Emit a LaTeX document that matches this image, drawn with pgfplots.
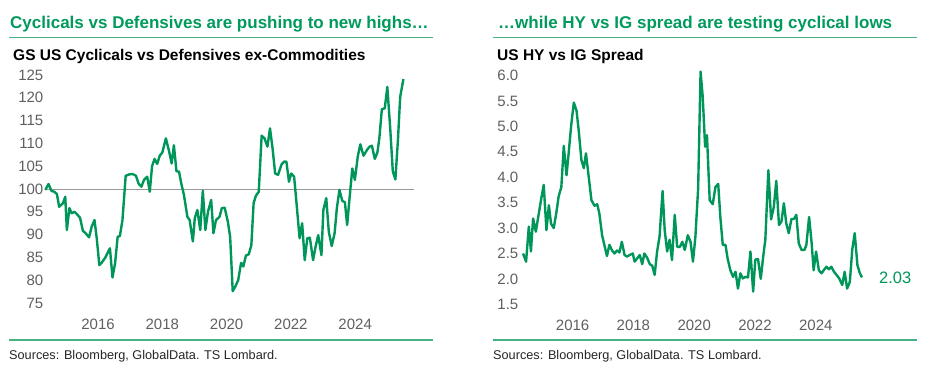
\documentclass[border=0pt]{standalone}
\usepackage{fontspec}
\setmainfont{Liberation Sans}
\usepackage{pgfplots}
\pgfplotsset{compat=1.18}
\definecolor{titlegreen}{RGB}{0,154,92}
\definecolor{linegreen}{RGB}{0,150,90}
\definecolor{rulegreen}{RGB}{70,180,130}
\definecolor{tickgray}{RGB}{95,95,95}
\pgfplotsset{
  base/.style={
    scale only axis, anchor=south west, clip=false,
    axis line style={draw=none}, tick style={draw=none},
    ticklabel style={font=\fontsize{15}{18}\selectfont, text=tickgray, inner sep=0pt},
    xticklabel style={anchor=north, yshift=-16pt},
    yticklabel style={anchor=east, xshift=-1.5pt},
    xtick={2016,2018,2020,2022,2024},
    xticklabels={2016,2018,2020,2022,2024},
  }
}
\begin{document}
\begin{tikzpicture}[x=1pt,y=1pt]
\path[use as bounding box] (0,0) rectangle (945,365);
% titles and rules
\node[anchor=base west, inner sep=0, text=titlegreen, font=\fontsize{17}{20}\selectfont\bfseries] at (10,336.7) {Cyclicals vs Defensives are pushing to new highs…};
\node[anchor=base west, inner sep=0, text=titlegreen, font=\fontsize{17}{20}\selectfont\bfseries] at (498,336.7) {…while HY vs IG spread are testing cyclical lows};
\draw[rulegreen, line width=1.2pt] (9,327.7) -- (433,327.7);
\draw[rulegreen, line width=1.2pt] (493,327.7) -- (917,327.7);
\node[anchor=base west, inner sep=0, font=\fontsize{15.5}{18}\selectfont\bfseries] at (13,305) {GS US Cyclicals vs Defensives ex-Commodities};
\node[anchor=base west, inner sep=0, font=\fontsize{15.5}{18}\selectfont\bfseries] at (497,305) {US HY vs IG Spread};
\draw[rulegreen, line width=1.2pt] (9,25) -- (433,25);
\draw[rulegreen, line width=1.2pt] (493,25) -- (917,25);
\node[anchor=base west, inner sep=0, font=\fontsize{12.7}{15}\selectfont, text=black!85] at (9,6) {Sources: Bloomberg, GlobalData. TS Lombard.};
\node[anchor=base west, inner sep=0, font=\fontsize{12.7}{15}\selectfont, text=black!85] at (493,6) {Sources: Bloomberg, GlobalData. TS Lombard.};

\begin{axis}[base, at={(45pt,62pt)}, width=369pt, height=228pt,
  xmin=2014.35, xmax=2025.83, ymin=75, ymax=125,
  ytick={75,80,85,90,95,100,105,110,115,120,125},
  yticklabels={75,80,85,90,95,100,105,110,115,120,125}]
\addplot[gray!80, line width=0.9pt, forget plot] coordinates {(2014.35,100) (2025.83,100)};
\addplot[linegreen, line width=2.4pt, line join=round] table {
2014.36 99.8
2014.46 101.1
2014.55 99.6
2014.64 99.4
2014.72 98.9
2014.79 96.1
2014.91 96.9
2014.98 98.3
2015.03 91.0
2015.11 95.8
2015.18 94.7
2015.27 95.0
2015.34 94.5
2015.44 93.7
2015.53 90.8
2015.60 90.4
2015.72 89.4
2015.80 91.7
2015.89 93.2
2015.96 89.2
2016.04 83.3
2016.11 83.8
2016.22 84.9
2016.37 87.0
2016.45 80.6
2016.53 83.7
2016.61 89.5
2016.68 89.7
2016.76 93.2
2016.86 102.9
2016.97 103.2
2017.07 103.3
2017.18 102.9
2017.26 101.2
2017.35 100.5
2017.43 102.0
2017.53 102.7
2017.61 99.4
2017.68 105.0
2017.76 106.6
2017.84 105.5
2017.92 107.3
2018.00 108.0
2018.11 111.1
2018.21 108.3
2018.29 105.6
2018.36 109.6
2018.44 103.9
2018.52 103.8
2018.59 101.2
2018.67 98.8
2018.78 93.9
2018.85 93.2
2018.95 88.5
2019.01 93.6
2019.09 95.4
2019.18 91.0
2019.26 99.6
2019.34 91.0
2019.42 95.0
2019.52 97.6
2019.59 90.3
2019.67 93.2
2019.78 93.9
2019.85 95.8
2019.94 95.9
2020.04 92.8
2020.11 89.5
2020.19 77.6
2020.27 78.6
2020.36 80.0
2020.45 83.8
2020.52 83.0
2020.60 85.4
2020.69 85.7
2020.77 87.7
2020.84 96.9
2020.91 98.5
2021.00 99.4
2021.09 111.7
2021.18 111.1
2021.27 109.3
2021.35 113.3
2021.43 108.9
2021.51 103.4
2021.60 103.1
2021.71 105.4
2021.79 106.0
2021.86 106.0
2021.94 101.6
2022.01 103.4
2022.10 102.7
2022.18 96.5
2022.27 89.2
2022.35 92.5
2022.43 84.4
2022.51 89.2
2022.59 89.3
2022.69 84.4
2022.77 87.4
2022.85 89.9
2022.95 85.5
2023.01 95.4
2023.10 98.0
2023.18 90.6
2023.27 87.5
2023.36 90.3
2023.43 95.8
2023.51 99.8
2023.60 97.4
2023.68 97.1
2023.75 92.1
2023.82 97.6
2023.91 104.5
2023.99 102.0
2024.08 107.1
2024.16 109.8
2024.26 107.3
2024.37 108.6
2024.45 109.3
2024.52 109.5
2024.61 106.6
2024.69 108.0
2024.75 111.0
2024.83 117.5
2024.92 117.7
2025.00 122.4
2025.09 113.3
2025.17 103.9
2025.25 102.1
2025.33 110.7
2025.40 120.2
2025.50 124.1
};
\end{axis}

\begin{axis}[base, at={(520pt,60.7pt)}, width=350.5pt, height=228.6pt,
  xmin=2014.27, xmax=2025.8, ymin=1.5, ymax=6,
  ytick={1.5,2,2.5,3,3.5,4,4.5,5,5.5,6},
  yticklabels={1.5,2.0,2.5,3.0,3.5,4.0,4.5,5.0,5.5,6.0}]
\addplot[linegreen, line width=2.4pt, line join=round] table {
2014.37 2.50
2014.47 2.34
2014.56 3.03
2014.63 2.54
2014.70 3.19
2014.79 2.93
2014.87 3.22
2014.96 3.55
2015.05 3.85
2015.14 2.96
2015.22 3.45
2015.29 3.09
2015.38 3.00
2015.47 3.32
2015.54 3.62
2015.63 3.81
2015.71 4.62
2015.80 4.04
2015.87 4.47
2015.95 5.00
2016.04 5.47
2016.13 5.31
2016.20 4.93
2016.29 4.34
2016.37 4.18
2016.44 4.47
2016.53 4.01
2016.62 3.55
2016.72 3.44
2016.81 3.47
2016.88 3.29
2016.97 2.86
2017.06 2.63
2017.13 2.45
2017.21 2.67
2017.30 2.56
2017.38 2.50
2017.46 2.56
2017.54 2.52
2017.62 2.73
2017.71 2.47
2017.79 2.44
2017.88 2.47
2017.98 2.50
2018.04 2.34
2018.12 2.40
2018.21 2.47
2018.29 2.29
2018.36 2.50
2018.45 2.42
2018.54 2.29
2018.62 2.26
2018.70 2.08
2018.78 2.54
2018.86 2.83
2018.96 3.73
2019.03 2.96
2019.11 2.54
2019.19 2.77
2019.27 2.37
2019.36 3.26
2019.44 2.63
2019.53 2.63
2019.61 2.73
2019.69 2.57
2019.79 2.86
2019.88 2.73
2019.96 2.34
2020.04 2.83
2020.13 3.78
2020.21 6.08
2020.28 5.59
2020.36 4.60
2020.42 4.83
2020.51 3.55
2020.61 3.47
2020.70 3.81
2020.79 3.87
2020.86 3.22
2020.94 2.67
2021.03 2.67
2021.10 2.40
2021.19 2.17
2021.28 2.04
2021.36 2.14
2021.44 1.81
2021.52 2.11
2021.60 2.01
2021.69 2.04
2021.77 2.03
2021.85 2.54
2021.94 1.75
2022.01 2.38
2022.10 2.39
2022.19 2.00
2022.27 2.44
2022.34 2.77
2022.44 4.14
2022.53 3.17
2022.62 3.42
2022.70 3.93
2022.79 3.06
2022.87 3.13
2022.95 3.49
2023.03 3.09
2023.11 2.90
2023.20 3.18
2023.28 3.18
2023.36 3.26
2023.44 2.70
2023.53 2.57
2023.63 2.57
2023.69 2.67
2023.78 3.22
2023.86 2.73
2023.93 2.17
2024.01 2.54
2024.10 2.17
2024.19 2.11
2024.26 2.17
2024.35 2.24
2024.43 2.19
2024.51 2.24
2024.60 2.14
2024.68 2.08
2024.77 2.01
2024.87 1.88
2024.95 2.14
2025.03 1.81
2025.12 1.94
2025.20 2.58
2025.28 2.90
2025.37 2.27
2025.45 2.11
2025.52 2.03
};
\node[anchor=west, inner sep=0, text=linegreen, font=\fontsize{16.5}{19}\selectfont] at (axis cs:2025.52,2.03) [xshift=17pt] {2.03};
\end{axis}
\end{tikzpicture}
\end{document}
